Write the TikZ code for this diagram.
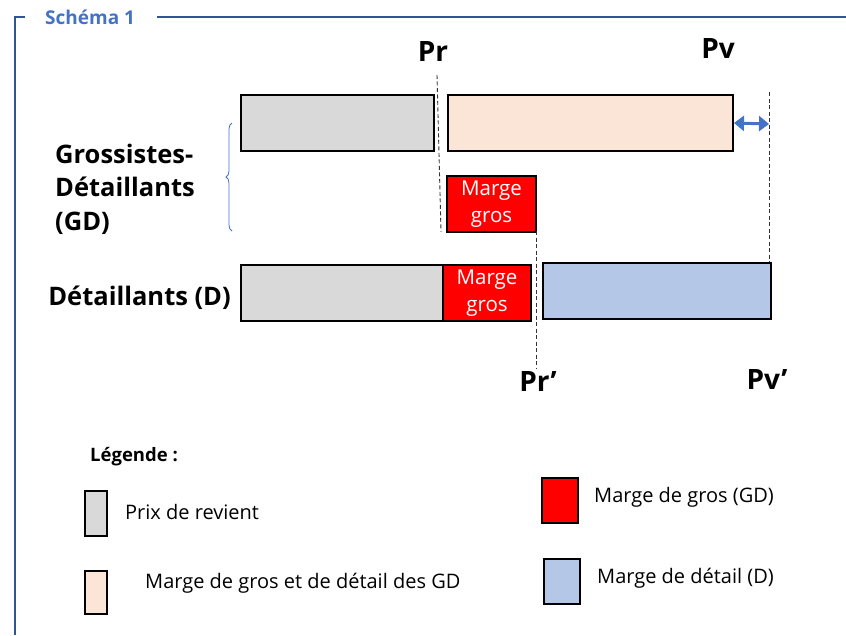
\documentclass[tikz,border=0pt]{standalone}
\usepackage{fontspec}
\setmainfont{Open Sans}
\usetikzlibrary{arrows.meta,decorations.pathreplacing}
\definecolor{framec}{HTML}{2F5597}
\definecolor{titlec}{HTML}{4472C4}
\definecolor{greyc}{HTML}{D9D9D9}
\definecolor{peachc}{HTML}{FBE5D6}
\definecolor{bluec}{HTML}{B4C7E7}
\definecolor{redc}{HTML}{FF0000}
\tikzset{
  bar/.style={draw=black, line width=2pt, inner sep=0pt, anchor=north west},
  legbox/.style={draw=black, line width=2pt, inner sep=0pt, anchor=north west},
  guide/.style={line width=0.9pt, black!80, dash pattern=on 4pt off 2.5pt},
  bigtxt/.style={font=\fontsize{25.5}{33.5}\selectfont\bfseries, inner sep=0pt},
  pricetxt/.style={font=\fontsize{28}{32}\selectfont\bfseries, inner sep=0pt},
  legtxt/.style={font=\fontsize{20}{24}\selectfont, inner sep=0pt, anchor=west},
  redtxt/.style={font=\fontsize{20.5}{27}\selectfont, text=white, align=center, inner sep=0pt},
}
\begin{document}
\begin{tikzpicture}[x=1pt,y=-1pt]
\useasboundingbox (0,0) rectangle (846,635);
% frame
\draw[framec, line width=2pt] (25,17) -- (15,17) -- (15,635);
\draw[framec, line width=2pt] (157,17) -- (846,17);
\node[font=\fontsize{19}{22}\selectfont\bfseries, text=titlec, anchor=west, inner sep=0pt] (title) at (45,17) {Schéma 1};

% top row (GD)
\node[bar, fill=greyc, minimum width=193pt, minimum height=56pt] (g1) at (240,94) {};
\node[bar, fill=peachc, minimum width=285pt, minimum height=56pt] (p1) at (447,94) {};
\node[bar, fill=redc, minimum width=89pt, minimum height=56pt] (r1) at (446,175) {};
\node[redtxt] (r1t) at (r1.center) {Marge\\gros};

% bottom row (D)
\node[bar, fill=greyc, minimum width=202pt, minimum height=56pt] (g2) at (240,264) {};
\node[bar, fill=redc, minimum width=88pt, minimum height=56pt] (r2) at (442,264) {};
\node[redtxt] (r2t) at (r2.center) {Marge\\gros};
\node[bar, fill=bluec, minimum width=228pt, minimum height=56pt] (b2) at (542,262) {};

% price labels
\node[pricetxt] (pr) at (433,52) {Pr};
\node[pricetxt] (pv) at (718,49) {Pv};
\node[pricetxt] (prp) at (538,381) {Pr’};
\node[pricetxt] (pvp) at (767,379) {Pv’};

% guide lines
\coordinate (prtop) at (437,75);
\coordinate (prbot) at (441,232);
\draw[guide] (prtop) -- (prbot);
\coordinate (prptop) at (536,231);
\coordinate (prpbot) at (536,368);
\draw[guide] (prptop) -- (prpbot);
\coordinate (pvtop) at (769,92);
\coordinate (pvbot) at (769,262);
\draw[guide] (pvtop) -- (pvbot);

% double arrow
\coordinate (arrR) at (769,124);
\draw[titlec, line width=3pt, {Triangle[length=10pt,width=15pt]}-{Triangle[length=10pt,width=15pt]}] (p1.east) -- (arrR);

% brace
\draw[titlec, line width=0.8pt, decorate, decoration={brace, amplitude=6pt}] (232,231) -- (232,123);

% row labels
\node[bigtxt, align=left, anchor=west] (gd) at (55,189) {Grossistes-\\Détaillants\\(GD)};
\node[bigtxt, anchor=east] (d) at (231,298) {Détaillants (D)};

% legend
\node[font=\fontsize{18.5}{22}\selectfont\bfseries, anchor=west, inner sep=0pt] (leg) at (90,457) {Légende :};
\node[legbox, fill=greyc, minimum width=22pt, minimum height=45pt] (lg) at (84,490) {};
\node[legtxt] (lgt) at (125,512) {Prix de revient};
\node[legbox, fill=peachc, minimum width=22pt, minimum height=43pt] (lp) at (84,570) {};
\node[legtxt] (lpt) at (145,583) {Marge de gros et de détail des GD};
\node[legbox, fill=redc, minimum width=36pt, minimum height=45pt] (lr) at (541,477) {};
\node[legtxt] (lrt) at (594,497) {Marge de gros (GD)};
\node[legbox, fill=bluec, minimum width=36pt, minimum height=45pt] (lb) at (543,558) {};
\node[legtxt] (lbt) at (597,578) {Marge de détail (D)};
\end{tikzpicture}
\end{document}
